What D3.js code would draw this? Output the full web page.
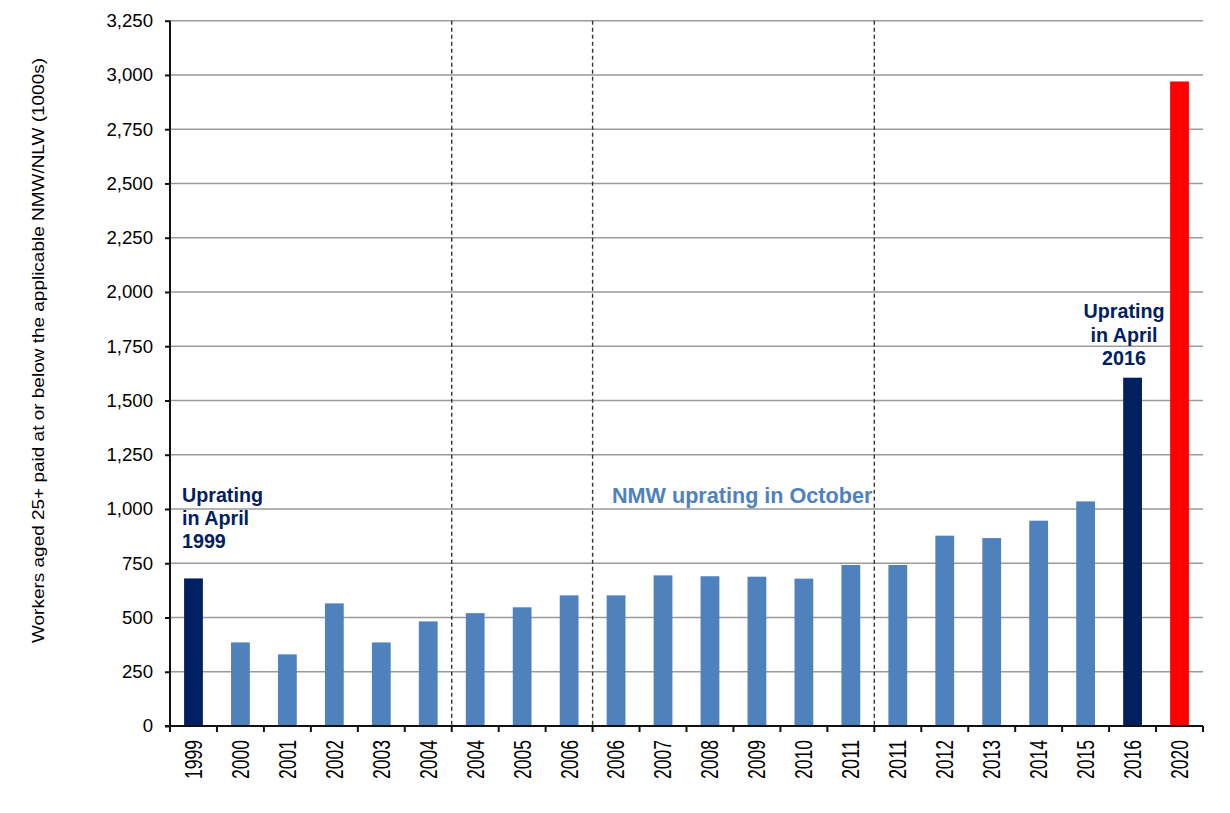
<!DOCTYPE html>
<html>
<head>
<meta charset="utf-8">
<script src="https://cdn.jsdelivr.net/npm/d3@7"></script>
<style>
  html, body { margin: 0; padding: 0; background: #fff; }
  svg { display: block; }
  text { font-family: "Liberation Sans", Arial, sans-serif; }
</style>
</head>
<body>
<svg id="chart" width="1230" height="813"></svg>
<script>
// ---- data ----
const categories = ["1999","2000","2001","2002","2003","2004","2004","2005","2006","2006","2007","2008","2009","2010","2011","2011","2012","2013","2014","2015","2016","2020"];
const values = [680, 385, 330, 565, 385, 482, 520, 547, 602, 602, 694, 690, 688, 679, 742, 742, 877, 866, 946, 1035, 1605, 2970];
const barGroups = ["april","oct","oct","oct","oct","oct","oct","oct","oct","oct","oct","oct","oct","oct","oct","oct","oct","oct","oct","oct","april","proj"];
const yTicks = [0, 250, 500, 750, 1000, 1250, 1500, 1750, 2000, 2250, 2500, 2750, 3000, 3250];
const dividerAfter = [5, 8, 14];
const yTitle = "Workers aged 25+  paid at or below the applicable NMW/NLW (1000s)";
const annotations = [
  { lines: ["Uprating", "in April", "1999"], anchor: "start", color: "#002060", size: 19.7 },
  { lines: ["Uprating", "in April", "2016"], anchor: "middle", color: "#002060", size: 19.7 },
  { lines: ["NMW uprating in October"], anchor: "start", color: "#4F81BD", size: 21.6 }
];

// ---- layout ----
const colors = { april: "#002060", oct: "#4F81BD", proj: "#FF0000" };
const pLeft = 170, pRight = 1203, pTop = 20.7, pBottom = 726;

const svg = d3.select("#chart");
const idx = d3.range(categories.length);

const x = d3.scaleBand().domain(idx).range([pLeft, pRight]).paddingInner(0.6).paddingOuter(0.3);
const y = d3.scaleLinear().domain([0, 3250]).range([pBottom, pTop]);
const step = x.step();
const boundary = i => pLeft + i * step;

// gridlines
svg.append("g").selectAll("line").data(yTicks.filter(t => t > 0)).join("line")
  .attr("x1", pLeft).attr("x2", pRight)
  .attr("y1", d => y(d)).attr("y2", d => y(d))
  .attr("stroke", "#9a9a9a").attr("stroke-width", 1.5);

// dashed dividers
svg.append("g").selectAll("line").data(dividerAfter).join("line")
  .attr("x1", d => boundary(d + 1)).attr("x2", d => boundary(d + 1))
  .attr("y1", pTop).attr("y2", pBottom)
  .attr("stroke", "#333").attr("stroke-width", 1.4).attr("stroke-dasharray", "4,3");

// bars
svg.append("g").selectAll("rect").data(idx).join("rect")
  .attr("x", i => x(i)).attr("width", x.bandwidth())
  .attr("y", i => y(values[i])).attr("height", i => pBottom - y(values[i]))
  .attr("fill", i => colors[barGroups[i]]);

// y axis
const yAxis = d3.axisLeft(y).tickValues(yTicks).tickSize(5).tickPadding(12)
  .tickFormat(d3.format(","));
const gy = svg.append("g").attr("transform", `translate(${pLeft},0)`).call(yAxis);
gy.select(".domain").attr("stroke", "#111").attr("stroke-width", 2).attr("d", `M0,${pTop}V${pBottom}`);
gy.selectAll(".tick line").attr("stroke", "#111").attr("stroke-width", 2);
gy.selectAll(".tick text").attr("font-size", 18.6).attr("fill", "#000")
  .attr("font-family", "'Liberation Sans', Arial, sans-serif");

// x axis line and ticks
svg.append("line").attr("x1", pLeft - 5).attr("x2", pRight).attr("y1", pBottom).attr("y2", pBottom)
  .attr("stroke", "#111").attr("stroke-width", 2);
svg.append("g").selectAll("line").data(d3.range(categories.length + 1)).join("line")
  .attr("x1", d => boundary(d)).attr("x2", d => boundary(d))
  .attr("y1", pBottom).attr("y2", pBottom + 6)
  .attr("stroke", "#111").attr("stroke-width", 2);

// x labels
svg.append("g").selectAll("text").data(idx).join("text")
  .attr("transform", i => `translate(${x(i) + x.bandwidth() / 2 + 8.4},740) rotate(-90)`)
  .attr("text-anchor", "end")
  .attr("font-size", 23)
  .attr("textLength", 39).attr("lengthAdjust", "spacingAndGlyphs")
  .attr("fill", "#000")
  .text(i => categories[i]);

// y title
svg.append("text")
  .attr("transform", "translate(43.5,350.5) rotate(-90)")
  .attr("text-anchor", "middle")
  .attr("font-size", 16.5)
  .attr("textLength", 585).attr("lengthAdjust", "spacingAndGlyphs")
  .attr("fill", "#000")
  .text(yTitle);

// annotations
const annPos = [
  { x: 182, y0: 501.5, dy: 23.2 },
  { x: 1124, y0: 318.3, dy: 23.3 },
  { x: 612, y0: 502.5, dy: 0 }
];
annotations.forEach((a, k) => {
  const p = annPos[k];
  const t = svg.append("text")
    .attr("text-anchor", a.anchor)
    .attr("font-size", a.size).attr("font-weight", "bold")
    .attr("fill", a.color);
  a.lines.forEach((ln, j) => {
    t.append("tspan").attr("x", p.x).attr("y", p.y0 + j * p.dy).text(ln);
  });
});
</script>
</body>
</html>
